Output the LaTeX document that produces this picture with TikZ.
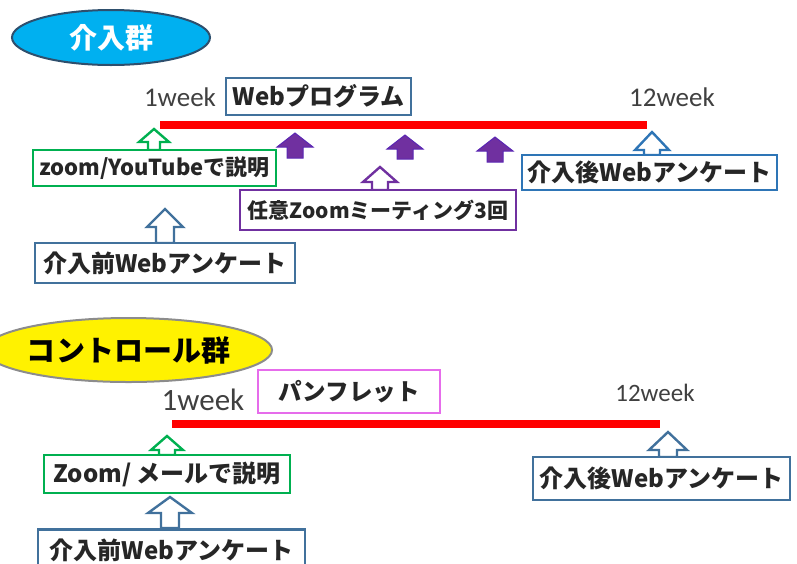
\documentclass[tikz,border=0pt]{standalone}
\usepackage{fontspec}
\usetikzlibrary{shapes.geometric}
\newfontfamily\jp{Noto Sans CJK JP}
\newfontfamily\calib{Carlito}
\definecolor{steel}{HTML}{41719C}
\definecolor{brblue}{HTML}{2E75B6}
\definecolor{grn}{HTML}{00B050}
\definecolor{purp}{HTML}{7030A0}
\definecolor{pinkm}{HTML}{E66CEB}
\definecolor{cyanfill}{HTML}{00B0F0}
\definecolor{timeline}{HTML}{FF0000}
\begin{document}
\begin{tikzpicture}[x=1pt,y=-1pt,
  box/.style={draw=#1, line width=2.6pt, fill=white, inner sep=0pt,
    font=\jp\bfseries\fontsize{24}{26}\selectfont, text=black!85},
  weeklbl/.style={font=\calib\fontsize{#1}{#1}\selectfont, text=black!75, inner sep=0pt},
  redline/.style={draw=timeline, line width=8pt},
  hollow/.style={draw=#1, line width=2.4pt, fill=white, line join=miter},
  solid/.style={draw=purp!80!blue, line width=1pt, fill=purp},
  pics/blockup/.style n args={5}{code={
    \path[#5] (0,0) -- (#1,#3) -- (#2,#3) -- (#2,#4) -- (-#2,#4) -- (-#2,#3) -- (-#1,#3) -- cycle;
  }}
]
\useasboundingbox (0,0) rectangle (797,563);

% ---------------- Intervention group ----------------
\node[ellipse, draw=steel!70!black, line width=2pt, fill=cyanfill,
      minimum width=198pt, minimum height=55pt, inner sep=0pt,
      font=\jp\bfseries\fontsize{28}{30}\selectfont, text=white]
      (grpA) at (111,37.5) {\raisebox{-2pt}{介入群}};

\node[weeklbl=27] (wA1) at (180,97) {1week};
\node[weeklbl=27] (wA12) at (672,97) {12week};
\node[box=steel, minimum width=185pt, minimum height=37pt] (webprog) at (318.5,96.5) {Webプログラム};

\coordinate (lA1) at (160,125);
\coordinate (lA2) at (647,125);
\draw[redline] (lA1) -- (lA2);

% arrows
\pic at (154,129) {blockup={15}{6}{13}{21}{hollow=grn}};
\pic at (165,209) {blockup={18}{9}{18}{34}{hollow=steel}};
\pic at (380,167) {blockup={17}{8}{15}{23}{hollow=purp}};
\pic at (652,132) {blockup={17}{8}{18}{23}{hollow=brblue}};
\pic at (295,133) {blockup={18}{8}{14}{25}{solid}};
\pic at (405,135) {blockup={18}{8}{14}{24}{solid}};
\pic at (495,137) {blockup={18}{8}{14}{25}{solid}};

\node[box=grn, minimum width=243pt, minimum height=36pt,
      font=\jp\bfseries\fontsize{22}{24}\selectfont] (zoomyt) at (154.5,168) {zoom/YouTubeで説明};
\node[box=brblue, minimum width=255pt, minimum height=35pt] (afterA) at (649.5,172.5) {介入後Webアンケート};
\node[box=purp, minimum width=276pt, minimum height=40pt,
      font=\jp\bfseries\fontsize{21}{24}\selectfont] (mtg) at (378,210) {任意Zoomミーティング3回};
\node[box=steel, minimum width=260pt, minimum height=40pt] (beforeA) at (165,263) {介入前Webアンケート};

% ---------------- Control group ----------------
\node[ellipse, draw=black!45, line width=2pt, fill=yellow,
      minimum width=229pt, minimum height=64pt, inner sep=0pt,
      font=\jp\bfseries\fontsize{29}{31}\selectfont, text=black]
      (grpB) at (128.5,350) {コントロール群};

\node[weeklbl=31] (wB1) at (203,400) {1week};
\node[weeklbl=25] (wB12) at (655,393) {12week};
\node[box=pinkm, minimum width=182pt, minimum height=43pt,
      font=\jp\fontsize{23.5}{26}\selectfont] (pamph) at (349,391.5) {\textbf{パンフレット}};

\coordinate (lB1) at (172,424);
\coordinate (lB2) at (660,424);
\draw[redline] (lB1) -- (lB2);

\pic at (167,436) {blockup={16}{8}{14}{19}{hollow=grn}};
\pic at (170,497) {blockup={22}{9}{16}{31}{hollow=steel}};
\pic at (668,432) {blockup={19}{9}{18}{25}{hollow=steel}};

\node[box=grn, minimum width=246pt, minimum height=38pt] (zoommail) at (167,474) {Zoom/ メールで説明};
\node[box=steel, minimum width=257pt, minimum height=43pt] (afterB) at (661.5,478.5) {介入後Webアンケート};
\node[box=steel, minimum width=267pt, minimum height=42pt, anchor=north] (beforeB) at (171.5,528) {\raisebox{2pt}{介入前Webアンケート}};
\end{tikzpicture}
\end{document}
